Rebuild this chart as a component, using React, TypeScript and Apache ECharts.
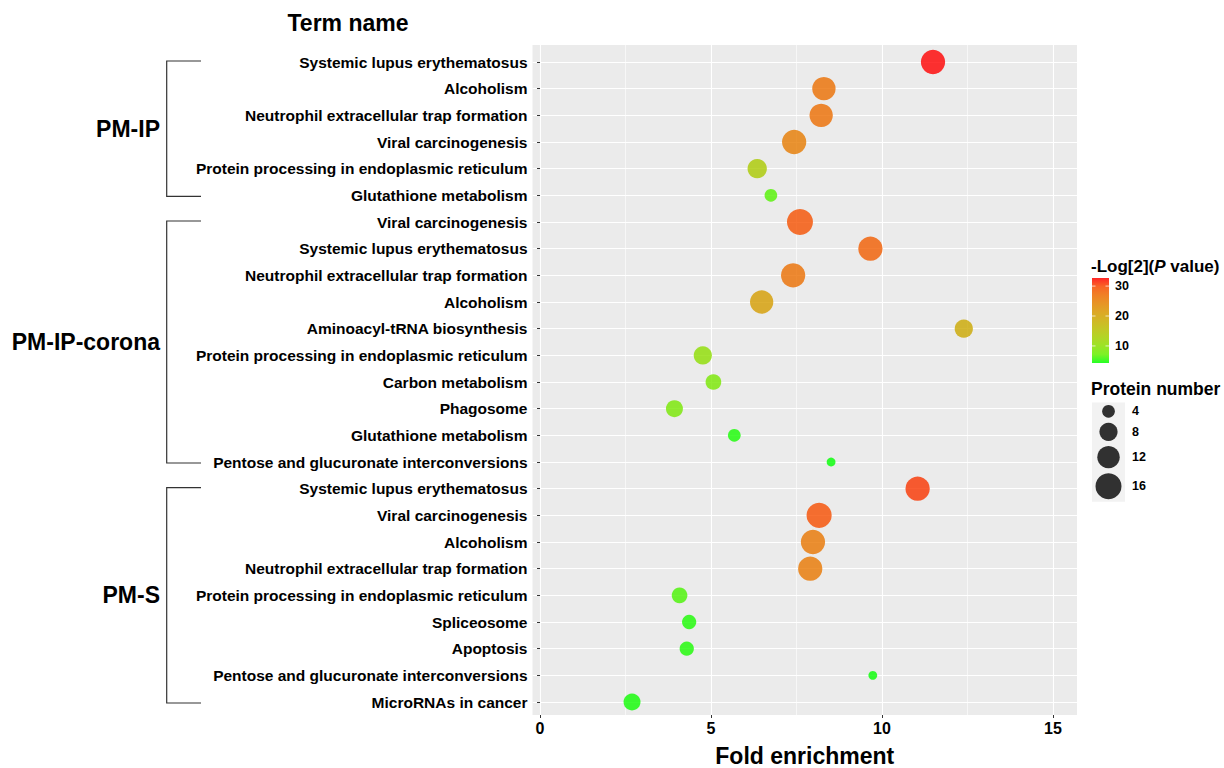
import React, { useEffect, useRef } from 'react';
import * as echarts from 'echarts';

// ---------------- data ----------------
const terms = [
  'Systemic lupus erythematosus',
  'Alcoholism',
  'Neutrophil extracellular trap formation',
  'Viral carcinogenesis',
  'Protein processing in endoplasmic reticulum',
  'Glutathione metabolism',
  'Viral carcinogenesis',
  'Systemic lupus erythematosus',
  'Neutrophil extracellular trap formation',
  'Alcoholism',
  'Aminoacyl-tRNA biosynthesis',
  'Protein processing in endoplasmic reticulum',
  'Carbon metabolism',
  'Phagosome',
  'Glutathione metabolism',
  'Pentose and glucuronate interconversions',
  'Systemic lupus erythematosus',
  'Viral carcinogenesis',
  'Alcoholism',
  'Neutrophil extracellular trap formation',
  'Protein processing in endoplasmic reticulum',
  'Spliceosome',
  'Apoptosis',
  'Pentose and glucuronate interconversions',
  'MicroRNAs in cancer',
];
const foldEnrichment = [
  11.49, 8.3, 8.22, 7.43, 6.35, 6.75,
  7.6, 9.66, 7.4, 6.48, 12.39, 4.76, 5.07, 3.93, 5.68, 8.51,
  11.04, 8.16, 7.98, 7.9, 4.08, 4.36, 4.29, 9.73, 2.69,
];
const proteinNumber = [
  14, 13, 13, 14, 9, 4,
  16, 14, 14, 13, 8, 8, 6, 7, 4, 2,
  14, 15, 14, 14, 6, 5, 5, 2, 7,
];
const negLog2P = [
  32.7, 26.5, 26.7, 25.0, 13.7, 6.6,
  29.3, 28.2, 26.5, 20.8, 19.0, 10.3, 8.6, 8.5, 4.9, 4.3,
  30.7, 29.6, 25.6, 25.5, 6.3, 5.0, 5.0, 4.4, 4.7,
];
const groupNames = ['PM-IP', 'PM-IP-corona', 'PM-S'];
const groupSizes = [6, 10, 9];
const colorMin = 4.3;
const colorMax = 32.7;
const colorTicks = [10, 20, 30];
const sizeBreaks = [4, 8, 12, 16];
const xMin = -0.22;
const xMax = 15.7;

// ---------------- helpers (style) ----------------
const FONT = '"Liberation Sans", Arial, sans-serif';
const sizeOf = (n: number) => 6.65 * Math.sqrt(n) - 0.6;

const toLin = (c: number) => {
  c /= 255;
  return c <= 0.04045 ? c / 12.92 : Math.pow((c + 0.055) / 1.055, 2.4);
};
const fromLin = (c: number) => {
  const v = c <= 0.0031308 ? 12.92 * c : 1.055 * Math.pow(Math.max(c, 0), 1 / 2.4) - 0.055;
  return Math.round(Math.max(0, Math.min(1, v)) * 255);
};
const Xn = 0.95047, Yn = 1, Zn = 1.08883;
const fl = (t: number) => (t > 0.008856 ? Math.cbrt(t) : 7.787 * t + 16 / 116);
const finv = (t: number) => (t > 0.206893 ? t * t * t : (t - 16 / 116) / 7.787);
const rgbToLab = (r: number, g: number, b: number) => {
  const R = toLin(r), G = toLin(g), B = toLin(b);
  const X = (0.4124 * R + 0.3576 * G + 0.1805 * B) / Xn;
  const Y = (0.2126 * R + 0.7152 * G + 0.0722 * B) / Yn;
  const Z = (0.0193 * R + 0.1192 * G + 0.9505 * B) / Zn;
  const fx = fl(X), fy = fl(Y), fz = fl(Z);
  return [116 * fy - 16, 500 * (fx - fy), 200 * (fy - fz)];
};
const labToRgb = (L: number, a: number, b: number) => {
  const fy = (L + 16) / 116, fx = fy + a / 500, fz = fy - b / 200;
  const X = Xn * finv(fx), Y = Yn * finv(fy), Z = Zn * finv(fz);
  const R = 3.2406 * X - 1.5372 * Y - 0.4986 * Z;
  const G = -0.9689 * X + 1.8758 * Y + 0.0415 * Z;
  const B = 0.0557 * X - 0.204 * Y + 1.057 * Z;
  return `rgb(${fromLin(R)},${fromLin(G)},${fromLin(B)})`;
};
const lowLab = rgbToLab(0, 255, 0);
const highLab = rgbToLab(255, 0, 0);
const gradientStops: string[] = [];
for (let i = 0; i <= 10; i++) {
  const t = i / 10;
  gradientStops.push(
    labToRgb(
      lowLab[0] + (highLab[0] - lowLab[0]) * t,
      lowLab[1] + (highLab[1] - lowLab[1]) * t,
      lowLab[2] + (highLab[2] - lowLab[2]) * t
    )
  );
}

export default function App() {
  const ref = useRef<HTMLDivElement>(null);

  useEffect(() => {
    if (!ref.current) return;
    const chart = echarts.init(ref.current, undefined, { renderer: 'svg' });

    const panel = { left: 532.5, right: 147, top: 45, bottom: 53 };
    const gridLine = { color: '#ffffff', width: 1.1 };

    const seriesData = terms.map((t, i) => [foldEnrichment[i], i, negLog2P[i], proteinNumber[i]]);

    chart.setOption({
      animation: false,
      backgroundColor: '#ffffff',
      grid: [
        { ...panel, show: true, backgroundColor: '#EBEBEB', borderWidth: 0 },
        { left: 540, right: 171, top: 45, bottom: 53, show: false },
        { left: panel.left, right: panel.right, top: 62, bottom: 66, show: false },
      ],
      xAxis: [
        { gridIndex: 0, type: 'value', show: false, min: 0, max: 1 },
        {
          gridIndex: 1,
          type: 'value',
          min: 0,
          max: 15,
          interval: 5,
          axisLine: { show: false },
          axisTick: { show: true, length: 3, lineStyle: { color: '#333', width: 1 } },
          axisLabel: { color: '#000', fontFamily: FONT, fontWeight: 'bold', fontSize: 16, margin: 5 },
          splitLine: { show: true, lineStyle: gridLine },
          minorTick: { show: false, splitNumber: 2 },
          minorSplitLine: { show: true, lineStyle: { color: '#ffffff', width: 0.6 } },
        },
        { gridIndex: 2, type: 'value', show: false, min: xMin, max: xMax },
      ],
      yAxis: [
        { gridIndex: 0, type: 'value', show: false, min: 0, max: 1 },
        { gridIndex: 1, type: 'value', show: false, min: 0, max: 1 },
        {
          gridIndex: 2,
          type: 'value',
          min: 0,
          max: terms.length - 1,
          interval: 1,
          inverse: true,
          axisLine: { show: false },
          axisTick: { show: true, length: 3, lineStyle: { color: '#333', width: 1 } },
          axisLabel: {
            color: '#000',
            fontFamily: FONT,
            fontWeight: 'bold',
            fontSize: 15.5,
            margin: 5,
            formatter: (v: number) => terms[Math.round(v)] ?? '',
          },
          splitLine: { show: true, lineStyle: gridLine },
        },
      ],
      visualMap: {
        type: 'continuous',
        show: false,
        min: colorMin,
        max: colorMax,
        dimension: 2,
        seriesIndex: 0,
        inRange: { color: gradientStops },
      },
      series: [
        {
          type: 'scatter',
          xAxisIndex: 2,
          yAxisIndex: 2,
          data: seriesData,
          symbol: 'circle',
          symbolSize: (val: number[]) => sizeOf(val[3]),
          itemStyle: { opacity: 0.8 },
          z: 5,
        },
      ],
    });

    // ---- graphics: titles, brackets, legends ----
    const yPix = (i: number) => chart.convertToPixel({ yAxisIndex: 2 }, i) as number;
    const g: any[] = [];

    g.push({
      type: 'text', x: 348, y: 23,
      style: { text: 'Term name', fontFamily: FONT, fontWeight: 'bold', fontSize: 23, fill: '#000', align: 'center', verticalAlign: 'middle' },
    });
    g.push({
      type: 'text', x: (panel.left + 1224 - panel.right) / 2, y: 756,
      style: { text: 'Fold enrichment', fontFamily: FONT, fontWeight: 'bold', fontSize: 23, fill: '#000', align: 'center', verticalAlign: 'middle' },
    });

    // brackets
    let start = 0;
    groupNames.forEach((name, gi) => {
      const end = start + groupSizes[gi] - 1;
      const y0 = yPix(start) - 1;
      const y1 = yPix(end) + 1;
      const bx = 166.7, ex = 201;
      g.push({
        type: 'polyline',
        shape: { points: [[ex, y0], [bx, y0], [bx, y1], [ex, y1]] },
        style: { stroke: '#333', lineWidth: 1.2, fill: 'none' },
      });
      g.push({
        type: 'text', x: 160, y: (y0 + y1) / 2,
        style: { text: name, fontFamily: FONT, fontWeight: 'bold', fontSize: 23, fill: '#000', align: 'right', verticalAlign: 'middle' },
      });
      start = end + 1;
    });

    // colour legend
    const cbX = 1092, cbW = 17, cbTop = 278, cbBottom = 363;
    const cbY = (v: number) => cbBottom - ((v - colorMin) / (colorMax - colorMin)) * (cbBottom - cbTop);
    g.push({
      type: 'text', x: 1091, y: 266,
      style: {
        text: '-Log[2]({i|P} value)',
        fontFamily: FONT, fontWeight: 'bold', fontSize: 17, fill: '#000', align: 'left', verticalAlign: 'middle',
        rich: { i: { fontFamily: FONT, fontWeight: 'bold', fontStyle: 'italic', fontSize: 17, fill: '#000' } },
      },
    });
    g.push({
      type: 'rect',
      shape: { x: cbX, y: cbTop, width: cbW, height: cbBottom - cbTop },
      style: {
        fill: {
          type: 'linear', x: 0, y: 1, x2: 0, y2: 0,
          colorStops: gradientStops.map((c, i) => ({ offset: i / (gradientStops.length - 1), color: c })),
        },
        opacity: 0.85,
      },
    });
    colorTicks.forEach((v) => {
      const y = cbY(v);
      g.push({ type: 'line', shape: { x1: cbX, y1: y, x2: cbX + 3.5, y2: y }, style: { stroke: '#ffffff', lineWidth: 1, opacity: 0.7 } });
      g.push({ type: 'line', shape: { x1: cbX + cbW - 3.5, y1: y, x2: cbX + cbW, y2: y }, style: { stroke: '#ffffff', lineWidth: 1, opacity: 0.7 } });
      g.push({
        type: 'text', x: 1115, y,
        style: { text: String(v), fontFamily: FONT, fontWeight: 'bold', fontSize: 12.5, fill: '#000', align: 'left', verticalAlign: 'middle' },
      });
    });

    // size legend
    g.push({
      type: 'text', x: 1091, y: 389,
      style: { text: 'Protein number', fontFamily: FONT, fontWeight: 'bold', fontSize: 17.5, fill: '#000', align: 'left', verticalAlign: 'middle' },
    });
    const keyHeights = sizeBreaks.map((n) => sizeOf(n) + 5);
    const boxTop = 402.5;
    const boxH = keyHeights.reduce((a, b) => a + b, 0);
    g.push({ type: 'rect', shape: { x: 1092, y: boxTop, width: 33, height: boxH }, style: { fill: '#F2F2F2' } });
    let cy = boxTop;
    sizeBreaks.forEach((n, i) => {
      const c = cy + keyHeights[i] / 2;
      g.push({ type: 'circle', shape: { cx: 1108.5, cy: c, r: sizeOf(n) / 2 }, style: { fill: '#000', opacity: 0.8 } });
      g.push({
        type: 'text', x: 1132, y: c,
        style: { text: String(n), fontFamily: FONT, fontWeight: 'bold', fontSize: 12.5, fill: '#000', align: 'left', verticalAlign: 'middle' },
      });
      cy += keyHeights[i];
    });

    chart.setOption({ graphic: { elements: g } });

    return () => chart.dispose();
  }, []);

  return (
    <div
      ref={ref}
      style={{ position: 'fixed', left: 0, top: 0, width: 1224, height: 768, background: '#fff' }}
    />
  );
}
